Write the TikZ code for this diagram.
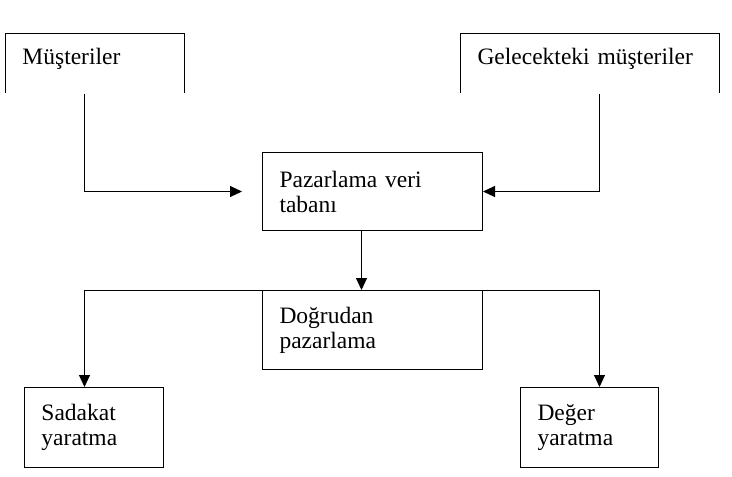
\documentclass[tikz,border=0pt]{standalone}
\usepackage{fontspec}
\setmainfont{Liberation Serif}
\usetikzlibrary{arrows.meta,positioning}

\begin{document}
\begin{tikzpicture}[
  x=1pt,y=-1pt,
  >={Triangle[length=12pt,width=11pt]},
  box/.style={draw,line width=1pt,anchor=north west,align=left,inner xsep=17pt,
              inner ysep=0pt,font=\fontsize{23.5}{25}\selectfont},
  openbox/.style={box,draw=none,text height=16pt,text depth=13pt},
  arr/.style={->,line width=1pt},
  frame/.style={line width=1pt}
]
\useasboundingbox (0,0) rectangle (732,477);
\node[openbox,text width=144pt,minimum height=59pt] (mus) at (5,33) {Müşteriler};
\node[openbox,text width=224pt,minimum height=59pt] (fut) at (460,33) {Gelecekteki müşteriler};
\node[box,text width=186pt,minimum height=78pt] (db) at (262,152) {Pazarlama veri\\tabanı};
\node[box,text width=186pt,minimum height=79pt] (dm) at (262,290) {Doğrudan\\pazarlama};
\node[box,text width=105pt,minimum height=80pt] (sad) at (24,387) {Sadakat\\yaratma};
\node[box,text width=104pt,minimum height=80pt] (deg) at (520,387) {Değer\\yaratma};
\draw[frame] (mus.south west) |- (mus.north east) -- (mus.south east);
\draw[frame] (fut.south west) |- (fut.north east) -- (fut.south east);
\draw[arr] ([xshift=-10pt,yshift=-1pt]mus.south) |- ([xshift=-20pt]db.west);
\draw[arr] ([xshift=10pt,yshift=-1pt]fut.south) |- (db.east);
\draw[arr] ([xshift=-11pt]db.south) -- ([xshift=-11pt]dm.north);
\draw[arr] (dm.north west) -| ([xshift=-9.5pt]sad.north);
\draw[arr] (dm.north east) -| ([xshift=10pt]deg.north);
\end{tikzpicture}
\end{document}
